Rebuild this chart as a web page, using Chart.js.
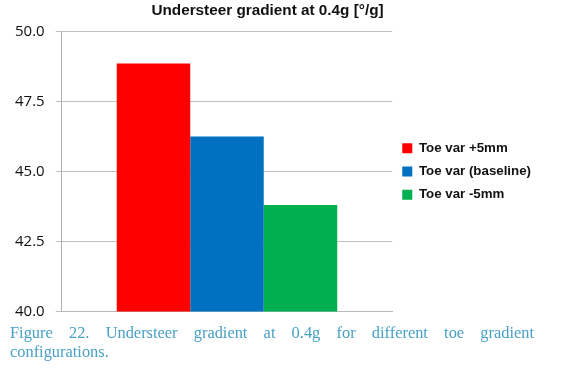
<!DOCTYPE html>
<html>
<head>
<meta charset="utf-8">
<script src="https://cdn.jsdelivr.net/npm/chart.js@4"></script>
<style>
  html, body { margin: 0; padding: 0; background: #ffffff; }
  #wrap { position: relative; width: 564px; height: 374px; overflow: hidden; }
  #box { position: absolute; left: 0; top: 0; width: 564px; height: 374px; }
  #caption {
    position: absolute; left: 10px; top: 323px; width: 524px;
    font-family: "Liberation Serif", "DejaVu Serif", serif; font-size: 16.4px; line-height: 19px;
    color: #48a0c4;
  }
  #caption .l1 { text-align: justify; text-align-last: justify; }
  #caption .l2 { text-align: left; }
</style>
</head>
<body>
<div id="wrap">
  <div id="box"><canvas id="c"></canvas></div>
  <div id="caption"><div class="l1">Figure 22. Understeer gradient at 0.4g for different toe gradient</div><div class="l2">configurations.</div></div>
</div>
<script>
const chartTitle = 'Understeer gradient at 0.4g [°/g]';
const categories = [''];
const seriesNames = ['Toe var +5mm', 'Toe var (baseline)', 'Toe var -5mm'];
const seriesValues = [48.85, 46.25, 43.8];
const seriesColors = ['#ff0000', '#0070c0', '#00b050'];
const yTicks = [40.0, 42.5, 45.0, 47.5, 50.0];

const datasets = seriesNames.map((name, i) => ({
  label: name,
  data: [seriesValues[i]],
  backgroundColor: seriesColors[i],
  borderWidth: 0,
  categoryPercentage: 0.667,
  barPercentage: 1.0
}));

// let the right-hand legend be as wide as its longest label
const legendWidthFix = {
  id: 'legendWidthFix',
  beforeLayout(chart) {
    const lg = chart.legend;
    if (lg && !lg._wideFix) {
      const orig = lg.update;
      lg.update = function (mw, mh, m) { return orig.call(this, Math.max(mw, 200), mh, m); };
      lg._wideFix = true;
    }
  }
};

new Chart(document.getElementById('c'), {
  type: 'bar',
  data: { labels: categories, datasets: datasets },
  plugins: [legendWidthFix],
  options: {
    responsive: true,
    maintainAspectRatio: false,
    animation: false,
    layout: { padding: { left: -6, right: 23, top: 0, bottom: 62.5 } },
    plugins: {
      title: {
        display: true,
        text: chartTitle,
        color: '#111',
        font: { family: 'Liberation Sans', size: 15.3, weight: 'bold' },
        padding: { top: 2, bottom: 11 }
      },
      legend: {
        position: 'right',
        align: 'center',
        fullSize: false,
        labels: {
          boxWidth: 10, boxHeight: 10, padding: 10,
          color: '#111',
          font: { family: 'Liberation Sans', size: 13.3, weight: 'bold' }
        }
      },
      tooltip: { enabled: false }
    },
    scales: {
      x: {
        grid: { display: false, drawTicks: false },
        border: { display: true, color: '#b8b8b8', width: 1 },
        ticks: { display: false }
      },
      y: {
        min: yTicks[0],
        max: yTicks[yTicks.length - 1],
        afterBuildTicks: (scale) => { scale.ticks = yTicks.map(v => ({ value: v })); },
        afterFit: (scale) => { scale.width = 67.7; },
        ticks: {
          padding: 11,
          color: '#111',
          font: { family: 'Open Sans', size: 15 },
          callback: (v) => Number(v).toFixed(1)
        },
        grid: { color: '#c0c0c0', tickLength: 6, lineWidth: 1 },
        border: { display: true, color: '#b0b0b0', width: 1 }
      }
    }
  }
});
</script>
</body>
</html>
